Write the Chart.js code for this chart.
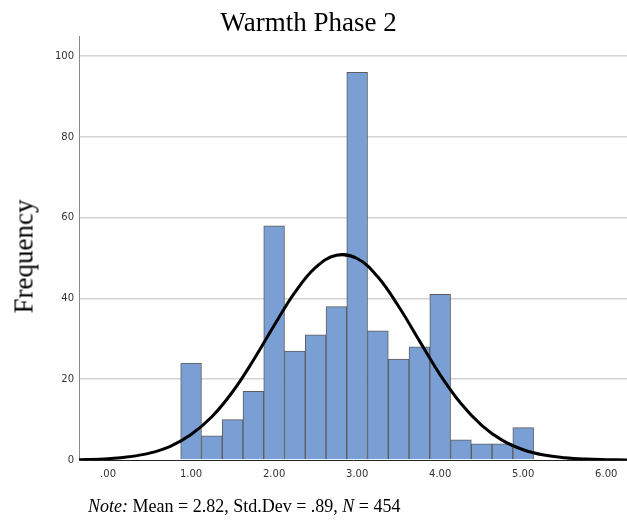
<!DOCTYPE html>
<html lang="en">
<head>
    <meta charset="UTF-8">
    <title>Warmth Phase 2</title>
    <script src="https://cdn.jsdelivr.net/npm/chart.js"></script>
    <style>
        body { margin: 0; background: #fff; }
        .wrap { position: relative; width: 627px; height: 520px; }
        .serif { position: absolute; font-family: 'Liberation Serif', 'Times New Roman', serif; color: #000; white-space: nowrap; }
        #title { left: 0; width: 617px; top: 9px; font-size: 27px; line-height: 27px; text-align: center; }
        #ytitle { left: -76px; top: 243px; width: 200px; font-size: 27px; line-height: 27px; text-align: center; transform: rotate(-90deg); }
        #note { left: 88px; top: 497px; font-size: 18px; line-height: 18px; }
        canvas { position: absolute; left: 0; top: 0; }
    </style>
</head>
<body>
<div class="wrap">
    <canvas id="histChart" width="627" height="520"></canvas>
    <div class="serif" id="title">Warmth Phase 2</div>
    <div class="serif" id="ytitle">Frequency</div>
    <div class="serif" id="note"><i>Note:</i> Mean = 2.82, Std.Dev = .89, <i>N</i> = 454</div>
</div>
<script>
    // histogram bins (centre of each bar) and counts
    const binCenters = [1.00, 1.25, 1.50, 1.75, 2.00, 2.25, 2.50, 2.75, 3.00, 3.25, 3.50, 3.75, 4.00, 4.25, 4.50, 4.75, 5.00];
    const counts = [24, 6, 10, 17, 58, 27, 31, 38, 96, 32, 25, 28, 41, 5, 4, 4, 8];

    // normal curve
    const curveX = [-0.5, -0.25, 0, 0.25, 0.5, 0.75, 1.0, 1.25, 1.5, 1.75, 2.0, 2.25, 2.5, 2.75, 3.0, 3.25, 3.5, 3.75, 4.0, 4.25, 4.5, 4.75, 5.0, 5.25, 5.5, 5.75, 6.0, 6.25, 6.5];
    const curveY = [0.05, 0.13, 0.34, 0.79, 1.7, 3.4, 6.3, 10.7, 16.9, 24.7, 33.3, 41.5, 47.7, 50.7, 49.9, 45.3, 38.0, 29.5, 21.1, 14.0, 8.6, 4.85, 2.54, 1.22, 0.55, 0.22, 0.09, 0.03, 0.01];

    const xTickValues = [0, 1, 2, 3, 4, 5, 6];
    const xTickLabels = ['.00', '1.00', '2.00', '3.00', '4.00', '5.00', '6.00'];
    const yTickValues = [0, 20, 40, 60, 80, 100];
    const yTickLabels = ['0', '20', '40', '60', '80', '100'];

    const tickFont = { family: "'DejaVu Sans', sans-serif", size: 10 };

    new Chart(document.getElementById('histChart'), {
        type: 'bar',
        data: {
            datasets: [{
                type: 'line',
                data: curveX.map((x, i) => ({ x: x, y: curveY[i] })),
                borderColor: '#000',
                borderWidth: 3,
                pointRadius: 0,
                fill: false,
                tension: 0.4,
                order: 0
            }, {
                type: 'bar',
                data: binCenters.map((c, i) => ({ x: c, y: counts[i] })),
                backgroundColor: '#7a9fd5',
                borderColor: '#5c5c5c',
                borderWidth: 1,
                barPercentage: 1,
                categoryPercentage: 1,
                order: 1
            }]
        },
        options: {
            responsive: false,
            animation: false,
            layout: { padding: { top: 36, left: 0, right: 0, bottom: 0 } },
            plugins: {
                legend: { display: false },
                tooltip: { enabled: false },
                title: { display: false }
            },
            scales: {
                x: {
                    type: 'linear',
                    min: -0.35,
                    max: 6.25,
                    offset: false,
                    grid: { display: false, offset: false },
                    border: { display: true, color: '#222', width: 1 },
                    afterBuildTicks: axis => { axis.ticks = xTickValues.map(v => ({ value: v })); },
                    afterFit: s => { s.height = 60; },
                    ticks: {
                        autoSkip: false,
                        maxRotation: 0,
                        padding: 0,
                        color: '#333',
                        font: tickFont,
                        callback: (v, i) => xTickLabels[i]
                    }
                },
                y: {
                    min: 0,
                    max: 105,
                    grid: {
                        drawTicks: false,
                        color: ctx => ctx.tick && ctx.tick.value === 0 ? 'rgba(0,0,0,0)' : '#d4d4d4',
                        lineWidth: 1.5
                    },
                    border: { display: true, color: '#8a8a8a', width: 1 },
                    afterBuildTicks: axis => { axis.ticks = yTickValues.map(v => ({ value: v })); },
                    afterFit: s => { s.width = 79; },
                    ticks: {
                        padding: 5,
                        color: '#333',
                        font: tickFont,
                        callback: (v, i) => yTickLabels[i]
                    }
                }
            }
        }
    });
</script>
</body>
</html>
